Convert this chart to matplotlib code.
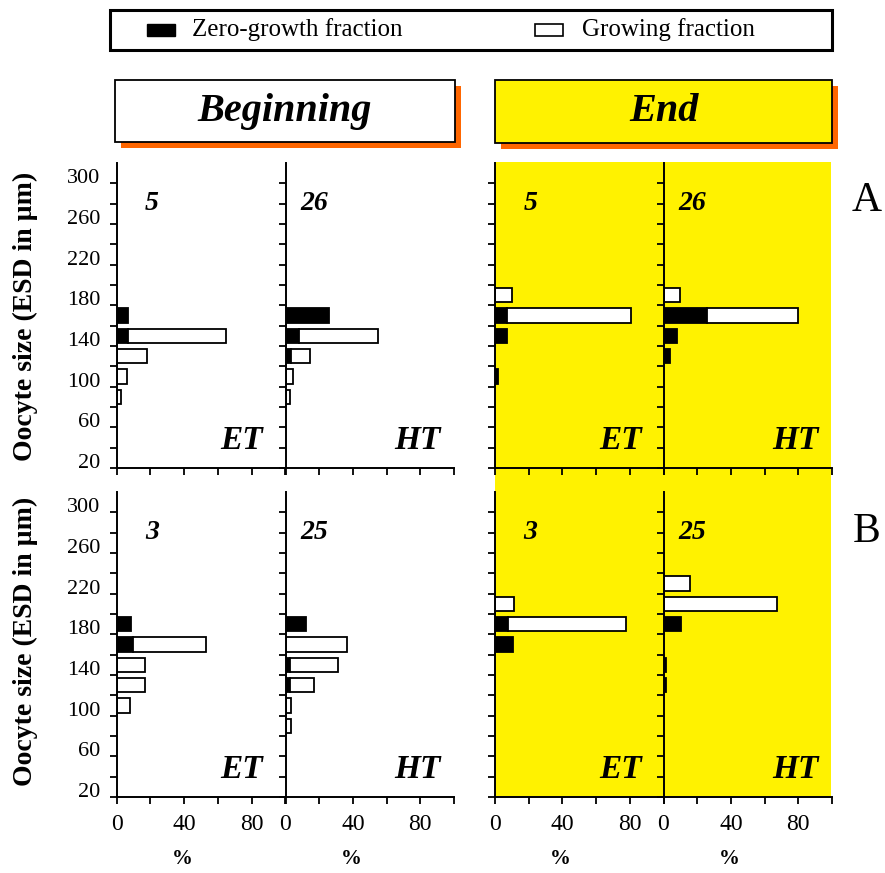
import numpy as np
import matplotlib
matplotlib.use("Agg")
import matplotlib.pyplot as plt
from matplotlib.patches import Rectangle
import matplotlib.transforms as mtransforms

plt.rcParams['font.family'] = ['Liberation Serif', 'DejaVu Serif']

# ── Data ─────────────────────────────────────────────────────
# oocyte size classes, bin centres in µm
size_bins = [90, 110, 130, 150, 170, 190, 210, 230]

# row A
a_beg_et_zero = [0, 0, 0, 7, 7, 0, 0, 0]
a_beg_et_grow = [2.5, 6, 18, 58, 0, 0, 0, 0]
a_beg_ht_zero = [0, 0, 3.5, 8, 26, 0, 0, 0]
a_beg_ht_grow = [2.5, 4.5, 11, 47, 0, 0, 0, 0]
a_end_et_zero = [0, 1.5, 0, 7, 7, 0, 0, 0]
a_end_et_grow = [0, 0, 0, 0, 74, 10, 0, 0]
a_end_ht_zero = [0, 0, 4, 8, 26, 0, 0, 0]
a_end_ht_grow = [0, 0, 0, 0, 54, 10, 0, 0]

# row B
b_beg_et_zero = [0, 0, 0, 0, 9.5, 8.5, 0, 0]
b_beg_et_grow = [0, 8, 17, 17, 43.5, 0, 0, 0]
b_beg_ht_zero = [0, 0, 2.5, 2.5, 0, 12, 0, 0]
b_beg_ht_grow = [3.5, 3.5, 14.5, 28.5, 36.5, 0, 0, 0]
b_end_et_zero = [0, 0, 0, 0, 10.5, 8, 0, 0]
b_end_et_grow = [0, 0, 0, 0, 0, 70, 11, 0]
b_end_ht_zero = [0, 0, 1.5, 1.5, 0, 10.5, 0, 0]
b_end_ht_grow = [0, 0, 0, 0, 0, 0, 67.5, 16]

row_numbers = {"A": ["5", "26"], "B": ["3", "25"]}
treatments = ["ET", "HT"]

YELLOW = "#FFF200"
ORANGE = "#FF6600"

W, H = 885, 873
fig = plt.figure(figsize=(W / 100, H / 100), dpi=100)


def fx(px):
    return px / W


def fy(py):
    return 1 - py / H


# panel geometry in pixels
col_left = [116.7, 285.5, 495, 663.5]
col_w = 168.5
row_top = {"A": 163, "B": 492}
row_h = 305

# yellow background behind the "End" panels
fig.patches.append(Rectangle((fx(495), fy(796)), fx(831 - 495), (796 - 162) / H,
                             transform=fig.transFigure, facecolor=YELLOW,
                             edgecolor="none", zorder=-1))

panels = {
    ("A", 0): (a_beg_et_zero, a_beg_et_grow),
    ("A", 1): (a_beg_ht_zero, a_beg_ht_grow),
    ("A", 2): (a_end_et_zero, a_end_et_grow),
    ("A", 3): (a_end_ht_zero, a_end_ht_grow),
    ("B", 0): (b_beg_et_zero, b_beg_et_grow),
    ("B", 1): (b_beg_ht_zero, b_beg_ht_grow),
    ("B", 2): (b_end_et_zero, b_end_et_grow),
    ("B", 3): (b_end_ht_zero, b_end_ht_grow),
}

label_shift = mtransforms.ScaledTranslation(0, 5 / 72, fig.dpi_scale_trans)
y = np.array(size_bins)

for (row, col), (zero, grow) in panels.items():
    ax = fig.add_axes([fx(col_left[col]), fy(row_top[row] + row_h),
                       fx(col_w), row_h / H])
    ax.set_facecolor("none")
    zero = np.array(zero, dtype=float)
    grow = np.array(grow, dtype=float)

    m = zero > 0
    ax.barh(y[m], zero[m], height=14, color="black", edgecolor="black",
            linewidth=1.3)
    m = grow > 0
    ax.barh(y[m], grow[m], left=zero[m], height=14, color="white",
            edgecolor="black", linewidth=1.3)

    ax.set_xlim(0, 100)
    ax.set_ylim(20, 320)
    for s in ["top", "right"]:
        ax.spines[s].set_visible(False)
    for s in ["left", "bottom"]:
        ax.spines[s].set_linewidth(1.4)
    ax.tick_params(direction="out", length=5, width=1.3, pad=7)
    ax.tick_params(axis="y", labelsize=16)
    ax.tick_params(axis="x", labelsize=17)

    yt = np.arange(20, 301, 20)
    ax.set_yticks(yt)
    if col == 0:
        ax.set_yticklabels([str(v) if (v - 20) % 40 == 0 else "" for v in yt])
        for lab in ax.get_yticklabels():
            lab.set_transform(lab.get_transform() + label_shift)
    else:
        ax.set_yticklabels([])

    xt = np.arange(0, 101, 20)
    ax.set_xticks(xt)
    if row == "B":
        ax.set_xticklabels([str(v) if v % 40 == 0 else "" for v in xt])
        ax.set_xlabel("%", fontsize=15, fontweight="bold")
        ax.xaxis.set_label_coords(0.39, -0.172)
    else:
        ax.set_xticklabels([])

    k = col % 2
    ax.text(21 if k == 0 else 17, 280, row_numbers[row][k], fontsize=20,
            fontweight="bold", style="italic", ha="center", va="center")
    ax.text(87 if k == 0 else 92, 47, treatments[k], fontsize=24,
            fontweight="bold", style="italic", ha="right", va="center")

# y-axis titles
for row, yc in [("A", 316), ("B", 641)]:
    fig.text(fx(25), fy(yc), "Oocyte size (ESD in µm)", rotation=90,
             fontsize=20, fontweight="bold", ha="center", va="center")

# row letters
fig.text(fx(867), fy(201), "A", fontsize=30, ha="center", va="center")
fig.text(fx(867), fy(532), "B", fontsize=30, ha="center", va="center")

# "Beginning" / "End" header boxes
for x0, x1, y0, y1, fc, txt in [(115, 455, 80, 142, "white", "Beginning"),
                                (495, 832, 80, 143, YELLOW, "End")]:
    fig.patches.append(Rectangle((fx(x0 + 6), fy(y1 + 6)), fx(x1 - x0), (y1 - y0) / H,
                                 transform=fig.transFigure, facecolor=ORANGE,
                                 edgecolor="none"))
    fig.patches.append(Rectangle((fx(x0), fy(y1)), fx(x1 - x0), (y1 - y0) / H,
                                 transform=fig.transFigure, facecolor=fc,
                                 edgecolor="black", linewidth=1.3))
    fig.text(fx((x0 + x1) / 2), fy((y0 + y1) / 2), txt, fontsize=29,
             fontweight="bold", style="italic", ha="center", va="center")

# legend
fig.patches.append(Rectangle((fx(110), fy(50)), fx(832 - 110), 40 / H,
                             transform=fig.transFigure, facecolor="white",
                             edgecolor="black", linewidth=2.2))
fig.patches.append(Rectangle((fx(147), fy(36)), fx(28), 12 / H,
                             transform=fig.transFigure, facecolor="black",
                             edgecolor="black", linewidth=1))
fig.text(fx(192), fy(30), "Zero-growth fraction", fontsize=18,
         ha="left", va="center")
fig.patches.append(Rectangle((fx(535), fy(36)), fx(28), 12 / H,
                             transform=fig.transFigure, facecolor="white",
                             edgecolor="black", linewidth=1.2))
fig.text(fx(582), fy(30), "Growing fraction", fontsize=18,
         ha="left", va="center")

fig.savefig("out.png", dpi=100)
